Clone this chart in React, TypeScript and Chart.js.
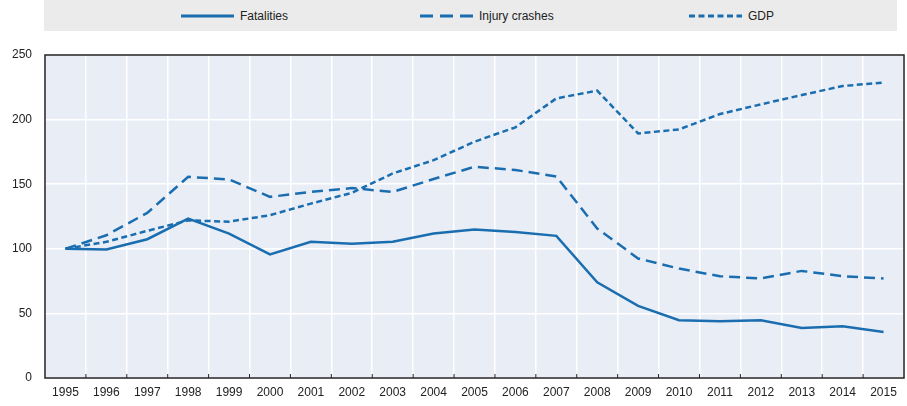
import { useEffect, useRef } from "react"
import { Chart, registerables, type Plugin } from "chart.js"

Chart.register(...registerables)

const years = [
  "1995", "1996", "1997", "1998", "1999", "2000", "2001", "2002", "2003", "2004", "2005",
  "2006", "2007", "2008", "2009", "2010", "2011", "2012", "2013", "2014", "2015",
]
const fatalities = [100, 99.4, 107.4, 123.4, 111.8, 95.6, 105.4, 104, 105.4, 111.8, 115, 113, 110, 74, 55.8, 44.7, 43.9, 44.7, 38.7, 40, 35.6]
const injuryCrashes = [100, 110.5, 127.8, 155.7, 153.7, 140.2, 144, 147, 144, 154, 163.5, 161, 156, 115.7, 92.5, 84.7, 78.8, 77, 82.9, 78.8, 77]
const gdp = [100, 105.4, 113.9, 122, 121, 126, 135, 143.3, 158.3, 168.6, 182.9, 194, 216.4, 222.4, 189.3, 192.4, 204.3, 211.8, 219, 226, 228.6]
const yTicks = [0, 50, 100, 150, 200, 250]

const BLUE = "#1a6eb0"
const FONT = "'Liberation Sans Narrow', 'Arial Narrow', 'Liberation Sans', sans-serif"

// plot background, border box and the small inward tick marks on the x axis
const framePlugin: Plugin<"line"> = {
  id: "frame",
  beforeDraw(chart) {
    const { ctx, chartArea: a } = chart
    ctx.save()
    ctx.fillStyle = "#e9edf6"
    ctx.fillRect(a.left, a.top, a.right - a.left, a.bottom - a.top)
    ctx.restore()
  },
  afterDatasetsDraw(chart) {
    const { ctx, chartArea: a } = chart
    const x = chart.scales.x
    ctx.save()
    ctx.strokeStyle = "#222"
    ctx.lineWidth = 1
    for (let i = 1; i < years.length; i++) {
      const px = (x.getPixelForValue(i - 1) + x.getPixelForValue(i)) / 2
      ctx.beginPath()
      ctx.moveTo(px, a.bottom)
      ctx.lineTo(px, a.bottom - 4)
      ctx.stroke()
    }
    ctx.lineWidth = 1.5
    ctx.strokeRect(a.left, a.top, a.right - a.left, a.bottom - a.top)
    ctx.restore()
  },
}

function LegendItem({ label, dash, left }: { label: string; dash?: string; left: number }) {
  return (
    <div style={{ position: "absolute", left, top: 0, height: 31, display: "flex", alignItems: "center" }}>
      <svg width={53} height={6} style={{ marginRight: 6 }}>
        <line x1={0} y1={3} x2={53} y2={3} stroke={BLUE} strokeWidth={3} strokeDasharray={dash} />
      </svg>
      <span>{label}</span>
    </div>
  )
}

export default function App() {
  const canvasRef = useRef<HTMLCanvasElement>(null)
  const chartRef = useRef<Chart | null>(null)

  useEffect(() => {
    document.body.style.margin = "0"
    if (!canvasRef.current) return
    if (chartRef.current) chartRef.current.destroy()

    chartRef.current = new Chart(canvasRef.current, {
      type: "line",
      data: {
        labels: years,
        datasets: [
          { label: "Fatalities", data: fatalities, borderColor: BLUE, borderWidth: 2.5, pointRadius: 0, tension: 0 },
          { label: "Injury crashes", data: injuryCrashes, borderColor: BLUE, borderWidth: 2.5, borderDash: [11, 6], pointRadius: 0 },
          { label: "GDP", data: gdp, borderColor: BLUE, borderWidth: 2.5, borderDash: [6, 3.5], pointRadius: 0 },
        ],
      },
      options: {
        animation: false,
        responsive: false,
        layout: { padding: { top: 55, right: 3, left: 0, bottom: 0 } },
        plugins: { legend: { display: false }, tooltip: { enabled: false } },
        scales: {
          x: {
            offset: true,
            grid: { offset: true, color: "#ffffff", lineWidth: 1.5, drawTicks: false },
            border: { display: false },
            ticks: { color: "#222", font: { family: FONT, size: 12 }, padding: 7, maxRotation: 0, autoSkip: false },
            afterFit: (s) => { s.height = 28 },
          },
          y: {
            min: 0,
            max: 250,
            afterBuildTicks: (s) => { s.ticks = yTicks.map((v) => ({ value: v })) },
            grid: { color: "#ffffff", lineWidth: 1.5, drawTicks: false },
            border: { display: false },
            ticks: { color: "#222", font: { family: FONT, size: 12 }, padding: 13 },
            afterFit: (s) => { s.width = 45 },
          },
        },
      },
      plugins: [framePlugin],
    })

    return () => {
      if (chartRef.current) {
        chartRef.current.destroy()
        chartRef.current = null
      }
    }
  }, [])

  return (
    <div style={{ position: "relative", width: 907, height: 406, fontFamily: FONT, fontSize: 12, color: "#222" }}>
      <canvas ref={canvasRef} width={907} height={406} style={{ display: "block" }} />
      <div style={{ position: "absolute", left: 44, top: 0, width: 853, height: 31, background: "#ebebeb" }} />
      <LegendItem label="Fatalities" left={181} />
      <LegendItem label="Injury crashes" dash="13 7" left={420} />
      <LegendItem label="GDP" dash="6 3.5" left={689} />
    </div>
  )
}
